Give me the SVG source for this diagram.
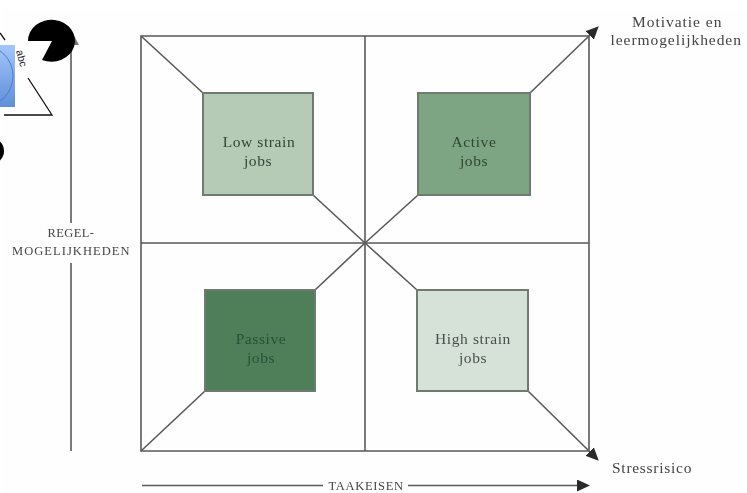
<svg xmlns="http://www.w3.org/2000/svg" width="747" height="493" viewBox="0 0 747 493">
<style>
.ln{stroke:#5a5a5a;stroke-width:1.6;fill:none}
.bx{stroke:#6f7a70;stroke-width:2}
.lb{font-family:"Liberation Serif","DejaVu Serif",serif;font-size:15.5px;fill:#444;text-anchor:middle;letter-spacing:.6px}
.nd{font-family:"Liberation Serif","DejaVu Serif",serif;font-size:15.5px;fill:#2f4535;text-anchor:middle;letter-spacing:.6px}
.sm{font-size:12.5px;letter-spacing:.5px}
</style>
<defs>
<marker id="ah" markerWidth="14" markerHeight="12" refX="2" refY="6" orient="auto" markerUnits="userSpaceOnUse"><path d="M0 0L13 6L0 12Z" fill="#2a2a2a"/></marker>
<linearGradient id="bl" x1="0" y1="0" x2="0" y2="1"><stop offset="0" stop-color="#a3c6fb"/><stop offset="1" stop-color="#5e8fd8"/></linearGradient>
<filter id="sf" x="-5%" y="-5%" width="110%" height="110%"><feGaussianBlur stdDeviation="0.5"/></filter>
</defs>
<rect width="747" height="493" fill="#fff"/>
<rect x="3" y="10" width="744" height="483" fill="#fdfefd"/>
<g id="connectors" filter="url(#sf)">
<path class="ln" d="M141 36H589V451H141ZM365 36V451M141 243H589"/>
<path class="ln" d="M141 36L203 93M589 36L530 93M141 451L205 391M589 451L528 391M313 195L365 243M418 195L365 243M315 290L365 243M417 290L365 243"/>
<path class="ln" d="M589 36L591 34" marker-end="url(#ah)"/>
<path class="ln" d="M589 451L591 453" marker-end="url(#ah)"/>
<path class="ln" d="M71 451V263M71 223V50"/>
<path d="M71 30L79 45H63Z" fill="#777"/>
<path class="ln" d="M142 485.500H323M408 485.500H579" marker-end="url(#ah)"/>
</g>
<g filter="url(#sf)">
<g id="low-strain"><rect class="bx" x="203" y="93" width="110" height="102" fill="#b5cbb6"/><text class="nd" x="259" y="147">Low strain</text><text class="nd" x="258" y="166">jobs</text></g>
<g id="active"><rect class="bx" x="418" y="93" width="112" height="102" fill="#7ea583"/><text class="nd" x="474" y="147">Active</text><text class="nd" x="474" y="166">jobs</text></g>
<g id="passive"><rect class="bx" x="205" y="290" width="110" height="101" fill="#4f7f58"/><text class="nd" x="261" y="344" style="fill:#28503a">Passive</text><text class="nd" x="261" y="363" style="fill:#28503a">jobs</text></g>
<g id="high-strain"><rect class="bx" x="417" y="290" width="111" height="101" fill="#d6e2d8"/><text class="nd" x="473" y="344" style="fill:#4a4f4b">High strain</text><text class="nd" x="473" y="363" style="fill:#4a4f4b">jobs</text></g>
<g id="labels">
<text class="lb" x="677" y="27" textLength="90">Motivatie en</text>
<text class="lb" x="676" y="45" textLength="131">leermogelijkheden</text>
<text class="lb" x="652" y="473" textLength="80">Stressrisico</text>
<text class="lb sm" x="366" y="490" textLength="75">TAAKEISEN</text>
<text class="lb sm" x="71" y="237" textLength="47">REGEL-</text>
<text class="lb sm" x="71" y="255" textLength="118">MOGELIJKHEDEN</text>
</g>
</g>
<g id="shapes">
<path d="M52 41L28 41A23.500 21 0 1 1 42 60Z" fill="#000"/>
<path d="M0 33L5 40M28 78L52 115H4" fill="none" stroke="#111" stroke-width="1.300"/>
<rect x="0" y="45" width="15" height="62" fill="url(#bl)"/>
<circle cx="-18" cy="76" r="31" fill="none" stroke="#4a7fc8"/>
<text transform="translate(16 51) rotate(75)" font-family="Liberation Sans,sans-serif" font-size="10.500" fill="#222">abc</text>
<ellipse cx="-9" cy="151" rx="13" ry="13" fill="#000"/>
</g>
</svg>
